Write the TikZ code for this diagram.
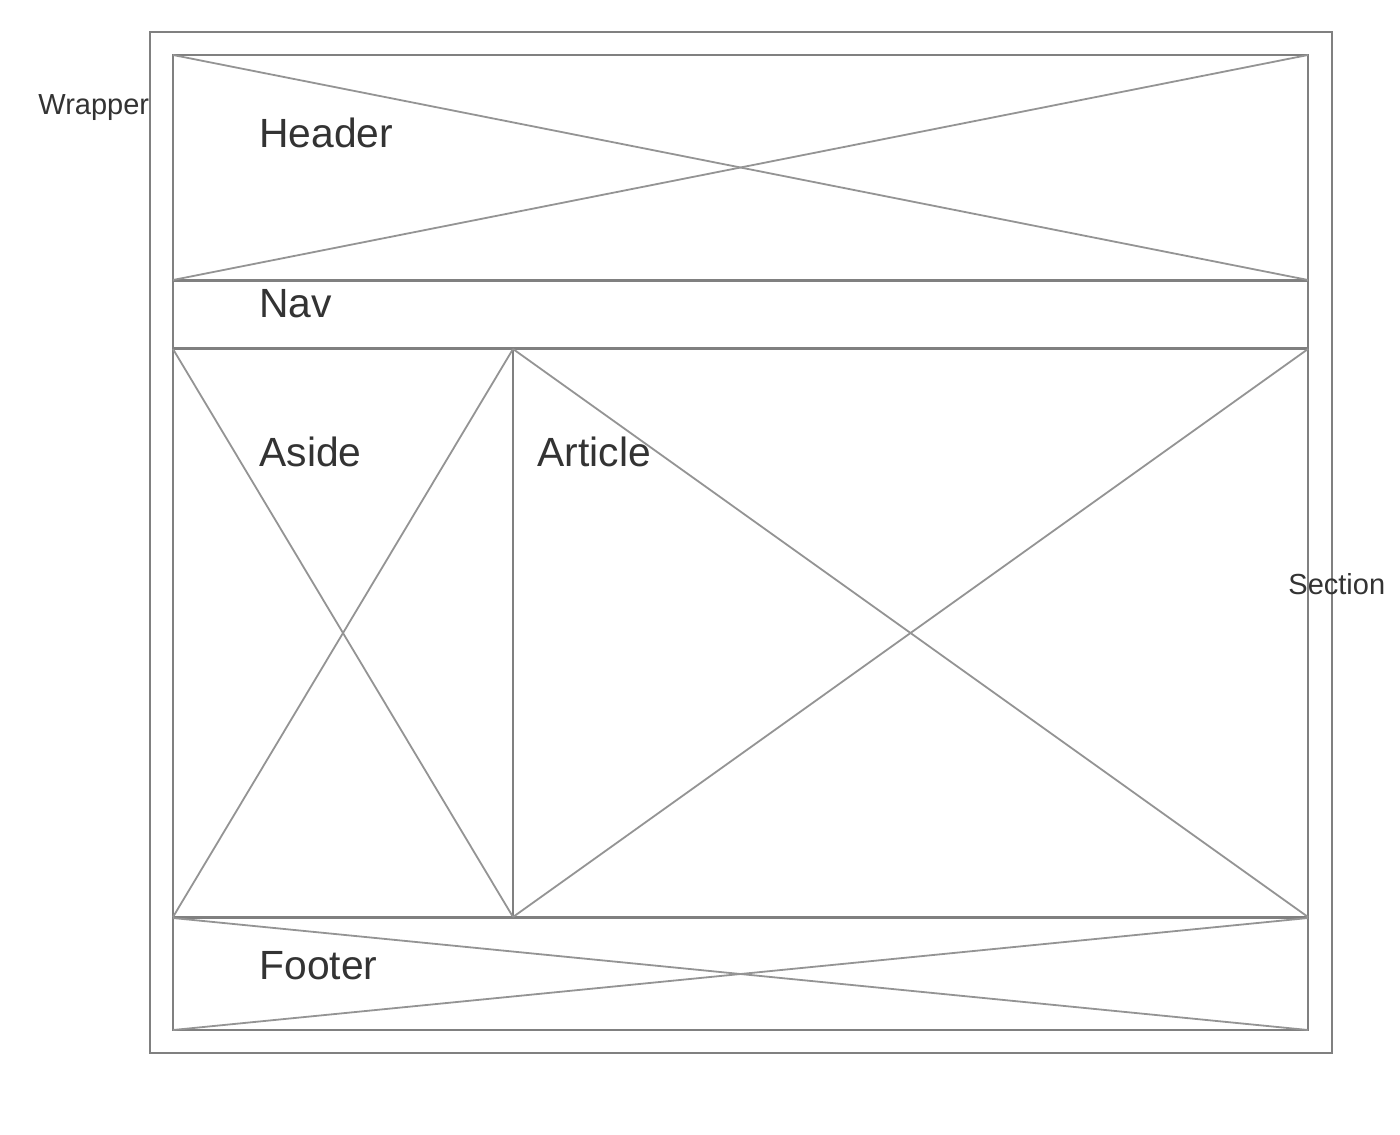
\documentclass[tikz,border=0pt]{standalone}
\usepackage{fontspec}
\setmainfont{Liberation Sans}
\begin{document}
\begin{tikzpicture}[x=0.5pt,y=-0.5pt,
  box/.style={draw=black!50,line width=1.1pt,inner sep=0pt,outer sep=0pt,anchor=north west},
  diag/.style={draw=black!42,line width=0.9pt},
  big/.style={text=black!80,font=\fontsize{20.4pt}{24pt}\selectfont,inner sep=0pt,anchor=base west},
  small/.style={text=black!80,font=\fontsize{14.5pt}{17pt}\selectfont,inner sep=0pt,anchor=base west}]
\useasboundingbox[fill=white] (0,0) rectangle (1400,1134);
\node[box,minimum width=591pt,minimum height=510.5pt] (wrapper) at (150,32) {};
\node[box,minimum width=567.5pt,minimum height=112.5pt] (header) at (173,55) {};
\node[box,minimum width=567.5pt,minimum height=33.5pt] (nav) at (173,281) {};
\node[box,minimum width=567.5pt,minimum height=284.5pt] (section) at (173,348) {};
\node[box,minimum width=170pt,minimum height=284pt] (aside) at (173,349) {};
\node[box,minimum width=397.5pt,minimum height=284pt] (article) at (513,349) {};
\node[box,minimum width=567.5pt,minimum height=56pt] (footer) at (173,918) {};
\foreach \n in {header,aside,article,footer}{
  \draw[diag] (\n.north west) -- (\n.south east);
  \draw[diag] (\n.south west) -- (\n.north east);
}
\node[small] (lwrapper) at (38,115) {Wrapper};
\node[big] (lheader) at (259,148) {Header};
\node[big] (lnav) at (259,317) {Nav};
\node[big] (laside) at (259,466) {Aside};
\node[big] (larticle) at (537,466) {Article};
\node[small] (lsection) at (1288,594) {Section};
\node[big] (lfooter) at (259,979) {Footer};
\end{tikzpicture}
\end{document}
